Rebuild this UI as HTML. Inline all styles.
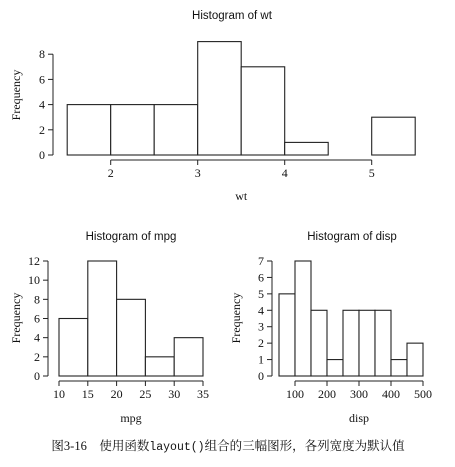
<!DOCTYPE html>
<html><head><meta charset="utf-8"><style>
body{margin:0;background:#fff}
svg text{font-family:"Liberation Serif",serif;fill:#111}
.t{font-family:"Liberation Sans",sans-serif !important}
</style></head><body>
<svg id="c" width="455" height="462" xmlns="http://www.w3.org/2000/svg">
<text x="228" y="450" font-size="12.5" text-anchor="middle" style="font-family:'Liberation Serif','Noto Serif CJK SC',serif">图3-16　使用函数<tspan style="font-family:'Liberation Mono',monospace;font-size:11.5px">layout()</tspan>组合的三幅图形，各列宽度为默认值</text>
</svg>
<script>
const wtBreaks=[1.5,2,2.5,3,3.5,4,4.5,5,5.5];
const wtCounts=[4,4,4,9,7,1,0,3];
const wtXTicks=[2,3,4,5];
const wtYTicks=[0,2,4,6,8];
const mpgBreaks=[10,15,20,25,30,35];
const mpgCounts=[6,12,8,2,4];
const mpgXTicks=[10,15,20,25,30,35];
const mpgYTicks=[0,2,4,6,8,10,12];
const dispBreaks=[50,100,150,200,250,300,350,400,450,500];
const dispCounts=[5,7,4,1,4,4,4,1,2];
const dispXTicks=[100,200,300,400,500];
const dispYTicks=[0,1,2,3,4,5,6,7];
const svg=document.getElementById('c');
const NS='http://www.w3.org/2000/svg';
function mk(tag,attrs,parent){const e=document.createElementNS(NS,tag);for(const k in attrs)e.setAttribute(k,attrs[k]);(parent||svg).appendChild(e);return e;}
function hist(o){
  const g=mk('g',{});
  
  
  const sx=v=>o.x0+(v-o.xa)*(o.x1-o.x0)/(o.xb-o.xa);
  const sy=v=>o.y0-(v)*(o.y0-o.y1)/o.yb;
  const t=mk('text',{x:o.tx,y:o.ty,'font-size':11.5,'text-anchor':'middle',class:'t'},g);t.textContent='Histogram of '+o.name;
  
  
  o.counts.forEach((c,i)=>{
    const x=sx(o.breaks[i]),x2=sx(o.breaks[i+1]);
    const r=mk('rect',{x:x,y:sy(c),width:x2-x,height:sy(0)-sy(c),fill:'#fff',stroke:'#222','stroke-width':1.1},g);
    
    
  });
  const xa=mk('g',{},g);
  
  
  const xt=o.xticks;
  mk('line',{x1:sx(xt[0]),x2:sx(xt[xt.length-1]),y1:o.axy,y2:o.axy,stroke:'#222'},xa);
  xt.forEach(v=>{mk('line',{x1:sx(v),x2:sx(v),y1:o.axy,y2:o.axy+5,stroke:'#222'},xa);
    const l=mk('text',{x:sx(v),y:o.axy+17,'font-size':12,'text-anchor':'middle'},xa);l.textContent=v;});
  const ya=mk('g',{},g);
  
  
  const yt=o.yticks;
  mk('line',{x1:o.axx,x2:o.axx,y1:sy(yt[0]),y2:sy(yt[yt.length-1]),stroke:'#222'},ya);
  yt.forEach(v=>{mk('line',{x1:o.axx,x2:o.axx-5,y1:sy(v),y2:sy(v),stroke:'#222'},ya);
    const l=mk('text',{x:o.axx-8,y:sy(v)+4,'font-size':12,'text-anchor':'end'},ya);l.textContent=v;});
  const xl=mk('text',{x:(o.x0+o.x1)/2,y:o.xly,'font-size':12,'text-anchor':'middle'},g);xl.textContent=o.name;
  
  
  const yl=mk('text',{x:0,y:0,'font-size':12,'text-anchor':'middle',transform:`translate(${o.yfx},${o.yfy}) rotate(-90)`},g);yl.textContent='Frequency';
  
  
}
hist({name:'wt',breaks:wtBreaks,counts:wtCounts,xticks:wtXTicks,yticks:wtYTicks,xa:2,xb:5,x0:110.7,x1:371.7,y0:155,y1:54.2,yb:8,axy:160,axx:53,tx:232,ty:19,xly:200,yfx:20,yfy:95});
hist({name:'mpg',breaks:mpgBreaks,counts:mpgCounts,xticks:mpgXTicks,yticks:mpgYTicks,xa:10,xb:35,x0:59,x1:203,y0:376,y1:261,yb:12,axy:381,axx:48,tx:131,ty:240,xly:422,yfx:20,yfy:318});
hist({name:'disp',breaks:dispBreaks,counts:dispCounts,xticks:dispXTicks,yticks:dispYTicks,xa:100,xb:500,x0:295,x1:423,y0:376,y1:261,yb:7,axy:381,axx:272,tx:352,ty:240,xly:422,yfx:240,yfy:318});
</script>
</body></html>
